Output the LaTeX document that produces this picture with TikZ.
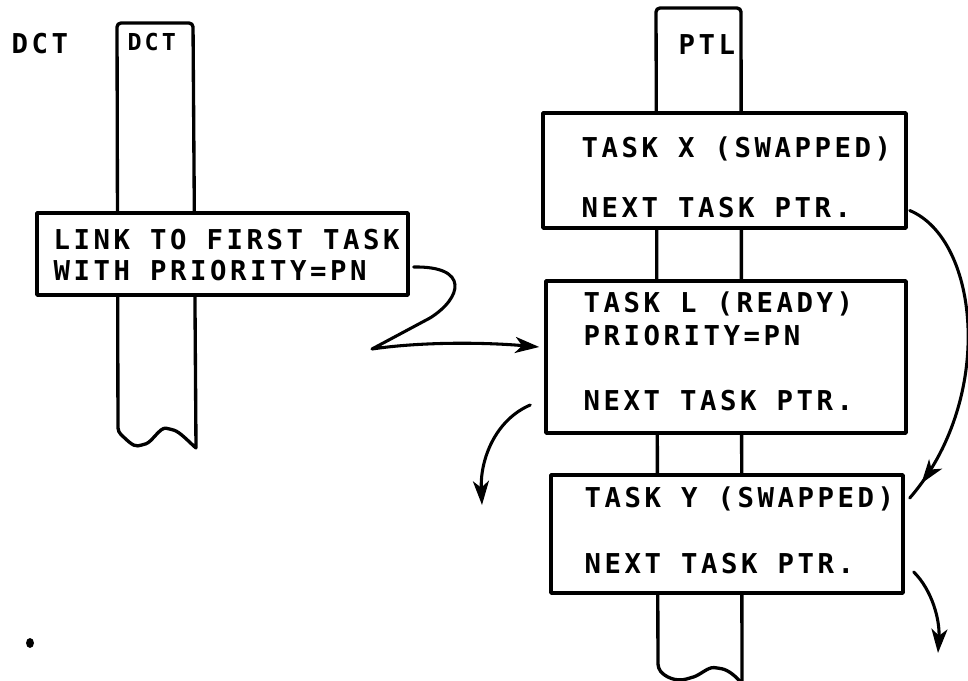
\documentclass[tikz,border=0pt]{standalone}
\usepackage{fontspec}
\newfontfamily\plotfont[LetterSpace=13]{DejaVu Sans Mono}
\usetikzlibrary{arrows.meta,decorations.markings}
\begin{document}
\begin{tikzpicture}[x=0.75pt,y=-0.75pt,
  line width=2.5pt, line join=round, line cap=round,
  boxstyle/.style={draw, fill=white, rectangle, inner sep=0pt, line width=2.6pt},
  txt/.style={anchor=west, inner sep=0pt, text height=15pt, text depth=0pt,
    font=\plotfont\bfseries\fontsize{20.5}{24}\selectfont},
  smalltxt/.style={anchor=west, inner sep=0pt, text height=12.8pt, text depth=0pt,
    font=\plotfont\bfseries\fontsize{17.5}{20}\selectfont},
  arr/.style={-{Stealth[length=18pt,width=12pt,inset=5pt]}, line width=2.3pt}]
\useasboundingbox (0,0) rectangle (968,681);

% DCT column
\draw[rounded corners=3pt] (196,448) -- (193,23) -- (117,23) -- (118,432)
  .. controls (126,439) and (133,447) .. (142,445)
  .. controls (152,442) and (160,427) .. (170,429)
  .. controls (180,432) and (188,441) .. (196,448);
% PTL column
\draw[rounded corners=3pt] (742,684) -- (741,8) -- (656,8) -- (658,668)
  .. controls (665,677) and (676,682) .. (690,678)
  .. controls (700,675) and (708,667) .. (718,668)
  .. controls (728,670) and (736,676) .. (742,684);

% labels
\node[txt] (dctlabel) at (10,44) {DCT};
\node[smalltxt] (dcthead) at (126,42) {DCT};
\node[txt] (ptlhead) at (677,45) {PTL};

% boxes
\node[boxstyle, minimum width=278.25pt, minimum height=61.5pt] (dctbox) at (222.5,254) {};
\node[boxstyle, minimum width=272.25pt, minimum height=86.25pt] (xbox) at (724.5,170.5) {};
\node[boxstyle, minimum width=270pt, minimum height=114pt] (lbox) at (726,357) {};
\node[boxstyle, minimum width=264pt, minimum height=88.5pt] (ybox) at (727,534) {};

% texts
\node[txt] (d1) at (52,240) {LINK TO FIRST TASK};
\node[txt] (d2) at (52,271) {WITH PRIORITY=PN};
\node[txt] (x1) at (580,148) {TASK X (SWAPPED)};
\node[txt] (x2) at (580,208) {NEXT TASK PTR.};
\node[txt] (l1) at (582,302) {TASK L (READY)};
\node[txt] (l2) at (582,335) {PRIORITY=PN};
\node[txt] (l3) at (582,400) {NEXT TASK PTR.};
\node[txt] (y1) at (583,497) {TASK Y (SWAPPED)};
\node[txt] (y2) at (583,563) {NEXT TASK PTR.};

% connectors
\coordinate (a2end) at (482,505);
\coordinate (a4end) at (938,653);
\draw[arr] ([shift={(4,13)}]dctbox.east) .. controls (470,266) and (462,298) .. (430,318)
  -- (372,349) .. controls (420,342) and (480,342) .. ([shift={(-5,-10)}]lbox.west);
\draw[arr] ([shift={(-14,48)}]lbox.west) .. controls (495,420) and (480,460) .. (a2end);
\draw[line width=2.3pt, postaction={decorate},
  decoration={markings, mark=at position -14pt with {\arrow{Stealth[length=18pt,width=12pt,inset=5pt]}}}]
  ([shift={(2,40)}]xbox.east) .. controls (980,240) and (995,400) .. ([shift={(5,-36)}]ybox.east);
\draw[arr] ([shift={(9,38)}]ybox.east) .. controls (932,590) and (940,620) .. (a4end);

% speck
\fill (30,643) ellipse [x radius=3pt, y radius=3.7pt];
\end{tikzpicture}
\end{document}
